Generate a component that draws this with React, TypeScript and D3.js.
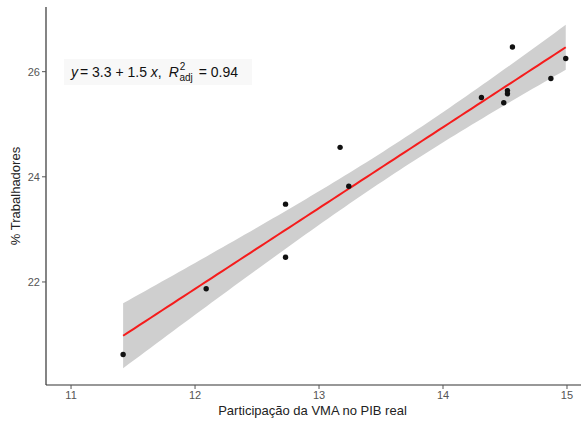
import React from "react";
import * as d3 from "d3";

const xValues = [11.42, 12.09, 12.73, 12.73, 13.17, 13.24, 14.31, 14.49, 14.52, 14.52, 14.56, 14.87, 14.99];
const yValues = [20.62, 21.87, 23.48, 22.47, 24.56, 23.82, 25.51, 25.41, 25.64, 25.58, 26.47, 25.87, 26.25];
const xTicks = [11, 12, 13, 14, 15];
const yTicks = [22, 24, 26];
const xTitle = "Participação da VMA no PIB real";
const yTitle = "% Trabalhadores";

const W = 581;
const H = 422;
const left = 46;
const right = 581;
const top = 7;
const bottom = 385;

export default function App() {
  const x = d3.scaleLinear().domain([10.798, 15.113]).range([left, right]);
  const y = d3.scaleLinear().domain([20.04, 27.23]).range([bottom, top]);

  const n = xValues.length;
  const mx = d3.mean(xValues) as number;
  const my = d3.mean(yValues) as number;
  let sxx = 0, sxy = 0;
  for (let i = 0; i < n; i++) {
    sxx += (xValues[i] - mx) ** 2;
    sxy += (xValues[i] - mx) * (yValues[i] - my);
  }
  const b = sxy / sxx;
  const a = my - b * mx;
  let sse = 0;
  for (let i = 0; i < n; i++) sse += (yValues[i] - (a + b * xValues[i])) ** 2;
  const s = Math.sqrt(sse / (n - 2));
  const tq = 2.200985; // t(0.975, df=11)

  const [x0, x1] = d3.extent(xValues) as [number, number];
  const grid = d3.range(0, 81).map((i) => x0 + ((x1 - x0) * i) / 80);
  const band = grid.map((xv) => {
    const fit = a + b * xv;
    const se = s * Math.sqrt(1 / n + (xv - mx) ** 2 / sxx);
    return { xv, fit, lo: fit - tq * se, hi: fit + tq * se };
  });

  const area = d3
    .area<typeof band[0]>()
    .x((d) => x(d.xv))
    .y0((d) => y(d.lo))
    .y1((d) => y(d.hi));
  const line = d3
    .line<typeof band[0]>()
    .x((d) => x(d.xv))
    .y((d) => y(d.fit));

  const font = "'Liberation Sans', Arial, sans-serif";

  return (
    <svg
      width={W}
      height={H}
      style={{ position: "absolute", left: 0, top: 0, background: "#fff" }}
      fontFamily={font}
    >
      <rect x={0} y={0} width={W} height={H} fill="#fff" />
      <path d={area(band) || ""} fill="#cfcfcf" />
      <path d={line(band) || ""} fill="none" stroke="#f51c1c" strokeWidth={2} />
      {xValues.map((xv, i) => (
        <circle key={i} cx={x(xv)} cy={y(yValues[i])} r={2.7} fill="#111" />
      ))}

      {/* axes */}
      <line x1={left} x2={left} y1={top} y2={bottom} stroke="#333" strokeWidth={1.2} />
      <line x1={left} x2={right} y1={bottom} y2={bottom} stroke="#333" strokeWidth={1.2} />
      {yTicks.map((t) => (
        <g key={t}>
          <line x1={left - 4} x2={left} y1={y(t)} y2={y(t)} stroke="#555" />
          <text x={left - 6} y={y(t)} dy="0.35em" textAnchor="end" fontSize={11} fill="#555">
            {t}
          </text>
        </g>
      ))}
      {xTicks.map((t) => (
        <g key={t}>
          <line x1={x(t)} x2={x(t)} y1={bottom} y2={bottom + 4} stroke="#555" />
          <text x={x(t)} y={399} textAnchor="middle" fontSize={11} fill="#555">
            {t}
          </text>
        </g>
      ))}
      <text x={(left + right) / 2 - 1} y={415} textAnchor="middle" fontSize={13} fill="#222">
        {xTitle}
      </text>
      <text
        transform={`translate(20, ${(top + bottom) / 2}) rotate(-90)`}
        textAnchor="middle"
        fontSize={13}
        fill="#222"
      >
        {yTitle}
      </text>

      {/* equation label */}
      <rect x={64} y={59} width={188} height={26} fill="#f8f8f8" />
      <text x={71} y={77} fontSize={14} fill="#111">
        <tspan fontStyle="italic">y</tspan>
        <tspan dx={2}>= 3.3 + 1.5 </tspan>
        <tspan fontStyle="italic">x</tspan>
        <tspan>,</tspan>
        <tspan fontStyle="italic" dx={7}>R</tspan>
        <tspan fontSize={10} dy={-7} dx={1}>2</tspan>
        <tspan fontSize={10} dy={11} dx={-6}>adj</tspan>
        <tspan dy={-4} dx={2}> = 0.94</tspan>
      </text>
    </svg>
  );
}
